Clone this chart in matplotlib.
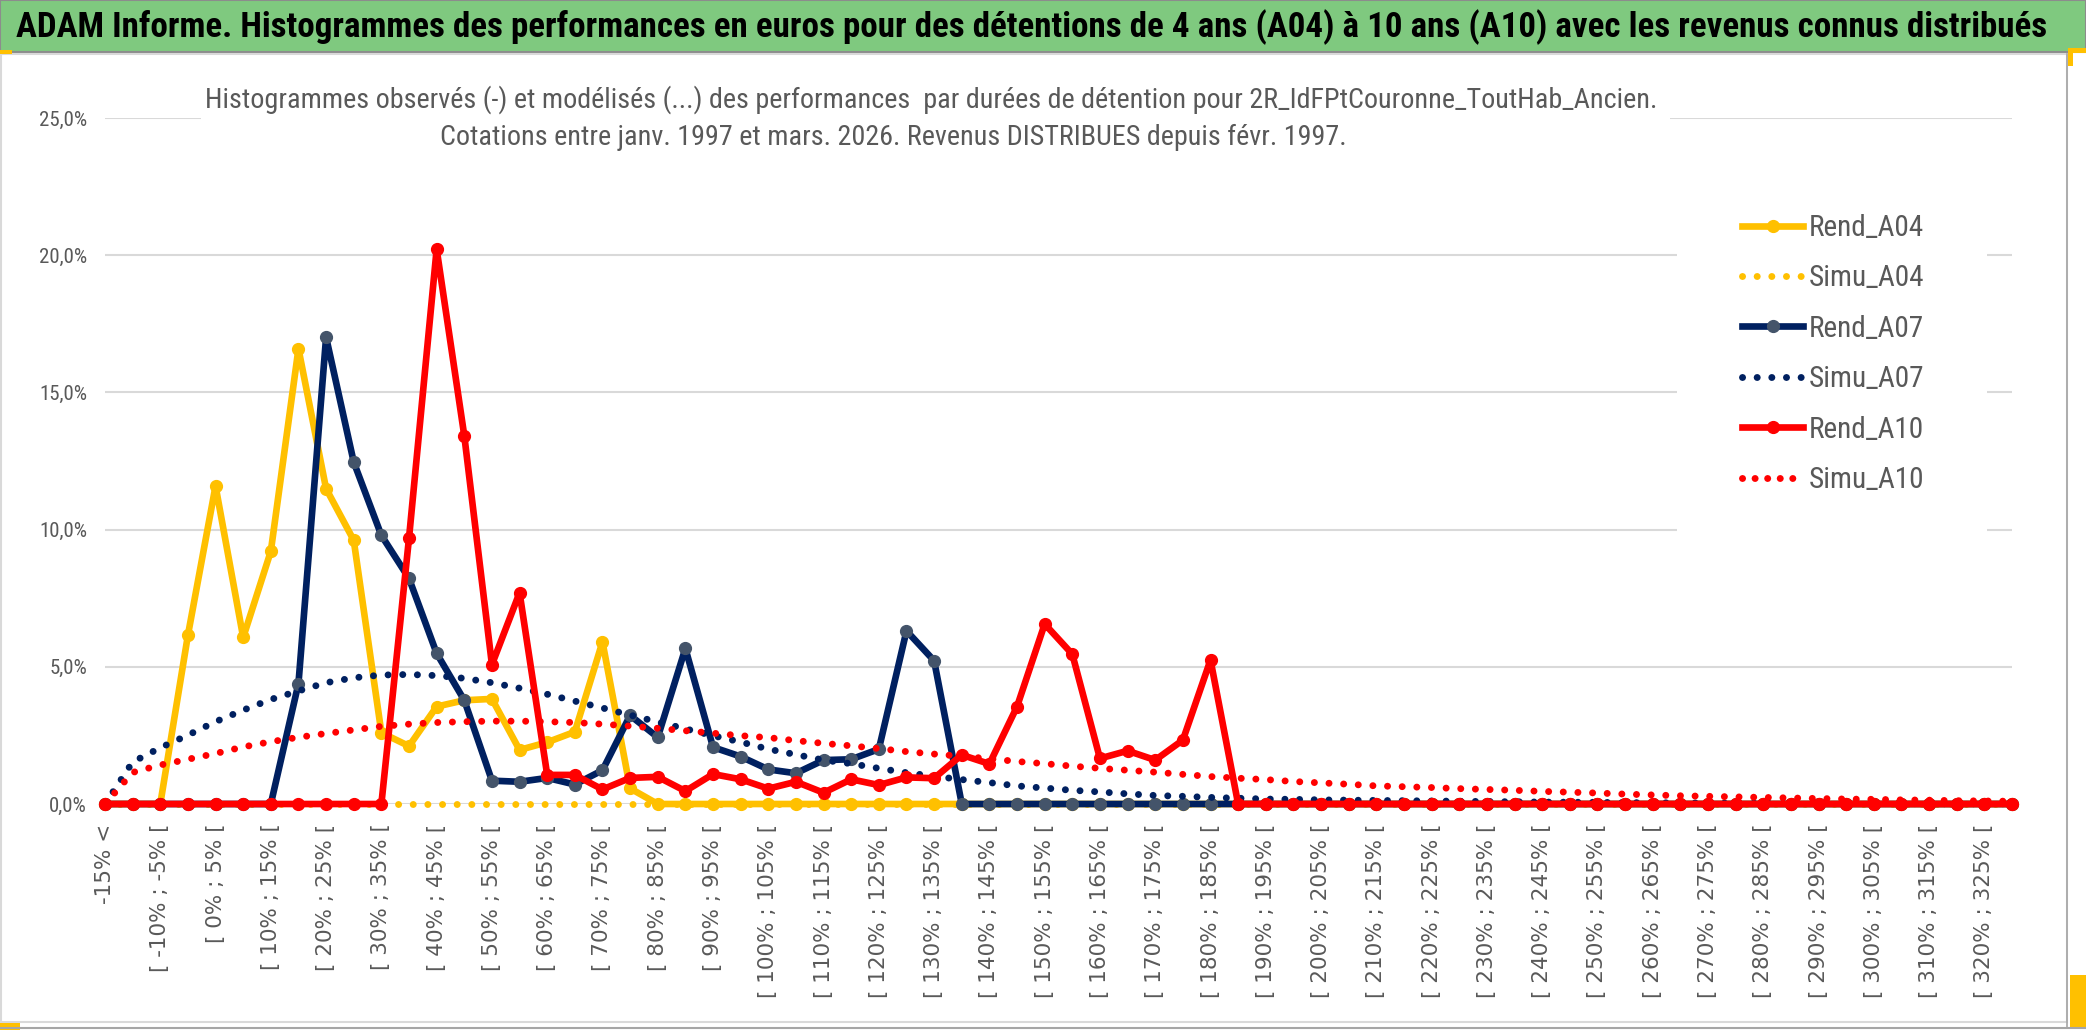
import matplotlib
matplotlib.use("Agg")
import matplotlib.pyplot as plt
from matplotlib.patches import Rectangle
from matplotlib.lines import Line2D
from matplotlib.ticker import FuncFormatter
from matplotlib import font_manager

W, H = 2086, 1031

# ---------------- data ----------------
categories = ["-15% <"] + [f"[ {a}% ; {a + 5}% [" for a in range(-15, 330, 5)]

rend_a04 = [0, 0, 0, 6.15, 11.59, 6.07, 9.21, 16.59, 11.49, 9.61,
            2.60, 2.11, 3.55, 3.78, 3.83, 1.97, 2.25, 2.63, 5.91, 0.57,
            0, 0, 0, 0, 0, 0, 0, 0, 0, 0,
            0, 0, 0, 0, 0, 0, 0, 0, 0, 0,
            0, 0, 0, 0, 0, 0, 0, 0, 0, 0,
            0, 0, 0, 0, 0, 0, 0, 0, 0, 0,
            0, 0, 0, 0, 0, 0, 0, 0, 0, 0]

simu_a04 = [0, 0, 0, 0, 0, 0, 0, 0, 0, 0,
            0, 0, 0, 0, 0, 0, 0, 0, 0, 0,
            0, 0, 0, 0, 0, 0, 0, 0, 0, 0,
            0, 0, 0, 0, 0, 0, 0, 0, 0, 0,
            0, 0, 0, 0, 0, 0, 0, 0, 0, 0,
            0, 0, 0, 0, 0, 0, 0, 0, 0, 0,
            0, 0, 0, 0, 0, 0, 0, 0, 0, 0]

rend_a07 = [0, 0, 0, 0, 0, 0, 0, 4.39, 17.01, 12.46,
            9.79, 8.22, 5.49, 3.78, 0.85, 0.81, 0.95, 0.71, 1.23, 3.23,
            2.43, 5.67, 2.07, 1.73, 1.26, 1.12, 1.60, 1.63, 2.00, 6.31,
            5.22, 0, 0, 0, 0, 0, 0, 0, 0, 0,
            0, 0, 0, 0, 0, 0, 0, 0, 0, 0,
            0, 0, 0, 0, 0, 0, 0, 0, 0, 0,
            0, 0, 0, 0, 0, 0, 0, 0, 0, 0]

simu_a07 = [0.0, 1.53, 2.05, 2.51, 3.00, 3.42, 3.81, 4.12, 4.42, 4.60,
            4.70, 4.72, 4.68, 4.58, 4.42, 4.22, 4.00, 3.75, 3.50, 3.24,
            2.99, 2.74, 2.49, 2.26, 2.00, 1.80, 1.60, 1.47, 1.30, 1.14,
            1.01, 0.89, 0.78, 0.66, 0.58, 0.50, 0.44, 0.37, 0.31, 0.28,
            0.24, 0.21, 0.18, 0.17, 0.15, 0.14, 0.13, 0.12, 0.11, 0.10,
            0.09, 0.08, 0.07, 0.065, 0.06, 0.05, 0.045, 0.04, 0.035, 0.03,
            0.03, 0.025, 0.02, 0.02, 0.015, 0.015, 0.01, 0.01, 0.01, 0.01]

rend_a10 = [0, 0, 0, 0, 0, 0, 0, 0, 0, 0,
            0, 9.69, 20.22, 13.42, 5.08, 7.70, 1.06, 1.06, 0.53, 0.95,
            0.99, 0.47, 1.09, 0.90, 0.56, 0.81, 0.41, 0.90, 0.69, 0.97,
            0.94, 1.79, 1.46, 3.55, 6.56, 5.46, 1.66, 1.94, 1.60, 2.33,
            5.25, 0, 0, 0, 0, 0, 0, 0, 0, 0,
            0, 0, 0, 0, 0, 0, 0, 0, 0, 0,
            0, 0, 0, 0, 0, 0, 0, 0, 0, 0]

simu_a10 = [0.0, 1.15, 1.42, 1.63, 1.84, 2.08, 2.27, 2.43, 2.57, 2.70,
            2.83, 2.91, 2.97, 3.00, 3.02, 3.02, 3.00, 2.97, 2.91, 2.84,
            2.76, 2.67, 2.58, 2.49, 2.42, 2.31, 2.21, 2.12, 2.02, 1.91,
            1.82, 1.74, 1.65, 1.55, 1.47, 1.38, 1.30, 1.23, 1.16, 1.08,
            1.00, 0.94, 0.89, 0.82, 0.77, 0.72, 0.66, 0.63, 0.60, 0.56,
            0.53, 0.50, 0.46, 0.43, 0.40, 0.36, 0.33, 0.30, 0.28, 0.26,
            0.24, 0.22, 0.20, 0.18, 0.17, 0.15, 0.14, 0.12, 0.11, 0.10]

series_names = ["Rend_A04", "Simu_A04", "Rend_A07", "Simu_A07", "Rend_A10", "Simu_A10"]

title = ("ADAM Informe. Histogrammes des performances en euros pour des détentions "
         "de 4 ans (A04) à 10 ans (A10) avec les revenus connus distribués")
subtitle1 = ("Histogrammes observés (-) et modélisés (...) des performances  par durées "
             "de détention pour 2R_IdFPtCouronne_ToutHab_Ancien.")
subtitle2 = "Cotations entre janv. 1997 et mars. 2026. Revenus DISTRIBUES depuis févr. 1997."

# ---------------- style ----------------
YEL = "#FFC000"
NAVY = "#002060"
NAVY_MK = "#44546A"
RED = "#FF0000"
GRAY_TXT = "#595959"
GRID = "#D9D9D9"
GREEN = "#7FC97F"

_names = {f.name for f in font_manager.fontManager.ttflist}
_narrow = None
for cand in ["Liberation Sans Narrow", "Roboto Condensed", "Open Sans Condensed"]:
    if cand in _names:
        _narrow = cand
        break
NAR = ([_narrow] if _narrow else []) + ["Lato", "DejaVu Sans"]


def fx(x):
    return x / W


def fy(y):
    return 1 - y / H


fig = plt.figure(figsize=(W / 100, H / 100), dpi=100)
fig.patch.set_facecolor("white")
renderer = fig.canvas.get_renderer()

# frame / banner
fig.patches.append(Rectangle((0, fy(52)), 1, 52 / H, transform=fig.transFigure,
                             facecolor=GREEN, edgecolor="#8C8C8C", lw=1.5, zorder=0))
fig.patches.append(Rectangle((fx(1), fy(1022)), fx(2066), (1022 - 54) / H,
                             transform=fig.transFigure, facecolor="none",
                             edgecolor=GRID, lw=1.5, zorder=0))
fig.lines.append(Line2D([0, 1], [fy(1028), fy(1028)], transform=fig.transFigure,
                        color="#A6A6A6", lw=1.5))
fig.lines.append(Line2D([fx(2067), fx(2067)], [fy(54), fy(1028)], transform=fig.transFigure,
                        color="#A6A6A6", lw=1.2))
for (x0, y0, w, h) in [(0, 50, 12, 4), (0, 1023, 20, 7), (2068, 48, 18, 5),
                       (2068, 48, 5, 18), (2070, 975, 16, 52)]:
    fig.patches.append(Rectangle((fx(x0), fy(y0 + h)), w / W, h / H, transform=fig.transFigure,
                                 facecolor=YEL, edgecolor="none", zorder=1))

# axes
ax = fig.add_axes([fx(105), fy(804), (2012 - 105) / W, (804 - 118) / H])
ax.set_xlim(0, 69)
ax.set_ylim(0, 25)
for s in ax.spines.values():
    s.set_visible(False)
ax.set_axisbelow(True)

x = list(range(len(categories)))
ax.set_xticks(x[::2])
ax.set_xticklabels(categories[::2], rotation=90, ha="center", va="top",
                   fontsize=15.5, color=GRAY_TXT, family="DejaVu Sans")
ax.set_xticks(x[::4], minor=True)
ax.set_yticks([0, 5, 10, 15, 20, 25])
ax.yaxis.set_major_formatter(FuncFormatter(lambda v, p: f"{v:.1f}%".replace(".", ",")))
for lab in ax.get_yticklabels():
    lab.set_family(NAR)
    lab.set_fontsize(15)
    lab.set_color(GRAY_TXT)
ax.tick_params(axis="x", which="both", length=0, pad=14)
ax.tick_params(axis="y", length=0, pad=13)
ax.grid(axis="y", which="major", color=GRID, lw=1.5)
ax.grid(axis="x", which="minor", color=GRID, lw=1.5)
ax.grid(axis="x", which="major", visible=False)

DOT = (0, (0.01, 2.1))
rend_kw = dict(lw=4.8, marker="o", markersize=8.5, solid_joinstyle="round",
               solid_capstyle="round", clip_on=False)
simu_kw = dict(lw=5.0, linestyle=DOT, dash_capstyle="round", clip_on=False)

ax.plot(x, rend_a04, color=YEL, mfc=YEL, mec=YEL, zorder=3.0, **rend_kw)
ax.plot(x, simu_a04, color=YEL, zorder=3.1, **simu_kw)
ax.plot(x, rend_a07, color=NAVY, mfc=NAVY_MK, mec=NAVY_MK, zorder=3.2, **rend_kw)
ax.plot(x, simu_a07, color=NAVY, zorder=3.3, **simu_kw)
ax.plot(x, rend_a10, color=RED, mfc=RED, mec=RED, zorder=3.4, **rend_kw)
ax.plot(x, simu_a10, color=RED, zorder=3.5, **simu_kw)

# white boxes behind subtitle and legend
ax.add_patch(Rectangle((fx(201), fy(158)), (1670 - 201) / W, (158 - 68) / H,
                       transform=fig.transFigure, facecolor="white", edgecolor="none",
                       zorder=1.5, clip_on=False))
ax.add_patch(Rectangle((fx(1677), fy(592)), (1987 - 1677) / W, (592 - 180) / H,
                       transform=fig.transFigure, facecolor="white", edgecolor="none",
                       zorder=1.5, clip_on=False))


def fit(t, target):
    for _ in range(3):
        bb = t.get_window_extent(renderer)
        t.set_fontsize(t.get_fontsize() * target / bb.width)


# legend font size fitted to the reference label width
_tmp = fig.text(0, 0, "Rend_A04", fontsize=20, family=NAR)
fit(_tmp, 116)
leg_fs = min(_tmp.get_fontsize(), 23)
_tmp.remove()
em = leg_fs * 100 / 72.0

handles = [
    Line2D([], [], color=YEL, lw=4.8, marker="o", markersize=8.5, mfc=YEL, mec=YEL),
    Line2D([], [], color=YEL, lw=5.0, linestyle=DOT, dash_capstyle="round"),
    Line2D([], [], color=NAVY, lw=4.8, marker="o", markersize=8.5, mfc=NAVY_MK, mec=NAVY_MK),
    Line2D([], [], color=NAVY, lw=5.0, linestyle=DOT, dash_capstyle="round"),
    Line2D([], [], color=RED, lw=4.8, marker="o", markersize=8.5, mfc=RED, mec=RED),
    Line2D([], [], color=RED, lw=5.0, linestyle=(0, (0.01, 1.8)), dash_capstyle="round"),
]
leg = fig.legend(handles, series_names, loc="upper left",
                 bbox_to_anchor=(fx(1742), fy(232 - 0.62 * em)), bbox_transform=fig.transFigure,
                 frameon=False, borderpad=0, borderaxespad=0, handlelength=61 / em,
                 handletextpad=6 / em, labelspacing=(57.6 - 1.2 * em) / em, numpoints=1,
                 prop={"family": NAR, "size": leg_fs}, labelcolor=GRAY_TXT)

# texts
t_title = fig.text(fx(16), fy(27), title, ha="left", va="center", fontsize=20,
                   fontweight="bold", color="black", family=NAR)
t_sub1 = fig.text(fx(931), fy(100), subtitle1, ha="center", va="center", fontsize=16,
                  color=GRAY_TXT, family=NAR, zorder=5)
t_sub2 = fig.text(fx(893), fy(137), subtitle2, ha="center", va="center", fontsize=16,
                  color=GRAY_TXT, family=NAR, zorder=5)

fit(t_title, 2045 - 16)
fit(t_sub1, 1656 - 206)
t_sub2.set_fontsize(t_sub1.get_fontsize())

fig.savefig("out.png", dpi=100, facecolor="white")
